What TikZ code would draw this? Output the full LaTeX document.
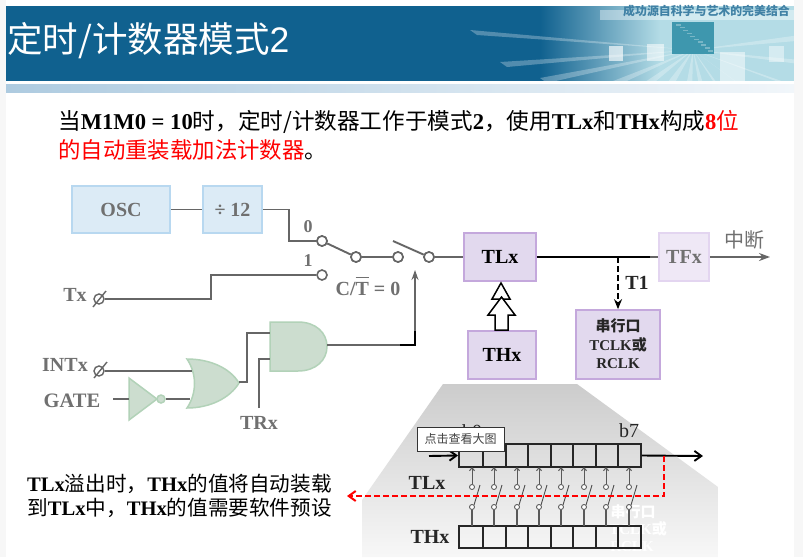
\documentclass[tikz,border=0pt]{standalone}
\usepackage{fontspec}
\setmainfont{Liberation Serif}
\newfontfamily\cjk{Noto Sans CJK SC}
\newfontfamily\hei{Liberation Sans}
\usetikzlibrary{arrows.meta,calc,shapes.geometric}
\definecolor{hdr}{HTML}{10618F}
\definecolor{hdrlight}{HTML}{B4DCE6}
\definecolor{teal1}{HTML}{3E97AE}
\definecolor{bandL}{HTML}{AECBE0}
\definecolor{bandR}{HTML}{F1F6FA}
\definecolor{bluefill}{HTML}{DCEBF6}
\definecolor{blueedge}{HTML}{B8D8F0}
\definecolor{purfill}{HTML}{E2D9EE}
\definecolor{puredge}{HTML}{C4A8DC}
\definecolor{tffill}{HTML}{EFE8F6}
\definecolor{tfedge}{HTML}{E3D5F0}
\definecolor{grnfill}{HTML}{CCDDCF}
\definecolor{grnedge}{HTML}{B2D2B8}
\definecolor{wire}{HTML}{666666}
\definecolor{txtgray}{HTML}{707070}
\newcommand{\zh}[1]{{\cjk #1}}
\newcommand{\fs}[1]{\fontsize{#1}{#1}\selectfont}
\tikzset{
  x=1pt,y=-1pt,
  wireline/.style={draw=wire,line width=1.9pt},
  blackline/.style={draw=black,line width=1.9pt},
  ringnode/.style={circle,draw=wire,fill=white,line width=1.6pt,minimum size=10pt,inner sep=0pt},
  tinyring/.style={circle,draw=black!70,fill=white,line width=0.8pt,minimum size=5pt,inner sep=0pt},
  bluebox/.style={draw=blueedge,fill=bluefill,line width=1.5pt,inner sep=0pt,text=txtgray,font=\fs{20}\bfseries},
  purbox/.style={draw=puredge,fill=purfill,line width=1.7pt,inner sep=0pt,font=\fs{20}\bfseries},
  gatefill/.style={draw=grnedge,fill=grnfill,line width=1.5pt},
  graylabel/.style={text=txtgray,font=\fs{20}\bfseries,inner sep=0pt},
  blacklabel/.style={text=black!85,font=\fs{20}\bfseries,inner sep=0pt},
  cell/.style={draw=black!85,fill=none,line width=1.9pt},
}
\begin{document}
\begin{tikzpicture}
\useasboundingbox (0,0) rectangle (803,557);
\fill[white] (0,0) rectangle (803,557);
\fill[black!3] (0,0) rectangle (6,557);
\fill[black!3] (794,0) rectangle (803,557);
% header
\fill[hdr] (6,6) rectangle (540,81);
\shade[left color=hdr,right color=hdrlight] (540,6) rectangle (660,81);
\fill[hdrlight] (660,6) rectangle (794,81);
\begin{scope}
\clip (6,6) rectangle (794,81);
\foreach \a/\b in {470/30,500/62,540/78,590/90,630/92,660/92,685/92,700/92,720/92,750/92,790/84,800/60,800/35}{
  \fill[white,opacity=.28] (693,50) -- (\a,\b) -- (\a+7,\b+5) -- cycle;
}
\fill[white,opacity=.65] (609,46) rectangle (623,61);
\fill[white,opacity=.55] (647,44) rectangle (664,61);
\fill[white,opacity=.45] (769,46) rectangle (784,62);
\fill[white,opacity=.5] (720,52) rectangle (745,81);
\fill[white,opacity=.4] (600,10) rectangle (794,20);
\fill[teal1] (672,22) rectangle (714,54);
\foreach \i in {0,...,9}{\fill[white,opacity=.3] (676+\i*3.6,24+\i*2.9) rectangle +(5,1.5);}
\end{scope}
\fill[white] (6,81) rectangle (794,84);
\shade[left color=bandL,right color=bandR] (6,84) rectangle (794,92);
\node[text=white,anchor=west,inner sep=0pt,font=\fs{35.5}] (title) at (7,41) {\zh{定时/计数器模式}\hei 2};
\node[text=hdr!80,anchor=east,inner sep=0pt,font=\fs{11.9}\bfseries] (motto) at (790,11) {\zh{成功源自科学与艺术的完美结合}};
% intro
\node[anchor=west,inner sep=0pt,font=\fs{22.6}] (intro1) at (58,122) {\zh{当}\textbf{M1M0 = 10}\zh{时，定时/计数器工作于模式}\textbf{2}\zh{，使用}\textbf{TLx}\zh{和}\textbf{THx}\zh{构成}\textcolor{red}{\textbf{8}\zh{位}}};
\node[anchor=west,inner sep=0pt,font=\fs{22.4}] (intro2) at (58,150) {\textcolor{red}{\zh{的自动重装载加法计数器}}\zh{。}};
% gray callout
\shade[top color=black!20,bottom color=black!3,draw=none] (443,384) -- (577,384) -- (718,487) -- (718,557) -- (362,557) -- (362,500) -- cycle;
% blocks
\node[bluebox,minimum width=98pt,minimum height=47pt] (osc) at (121,209.5) {OSC};
\node[bluebox,minimum width=59pt,minimum height=47pt] (div) at (232.5,209.5) {÷ 12};
\node[ringnode] (r0) at (322,241) {};
\node[ringnode] (r1) at (322,275) {};
\node[ringnode] (r2) at (356,257) {};
\node[ringnode] (r3) at (398,257) {};
\node[ringnode] (r4) at (429,257) {};
\coordinate (blade) at (393,241);
\node[purbox,minimum width=72pt,minimum height=48pt] (tlx) at (500,257) {TLx};
\node[purbox,minimum width=68pt,minimum height=48pt] (thx) at (502,355) {THx};
\node[draw=tfedge,fill=tffill,line width=1.7pt,inner sep=0pt,minimum width=50pt,minimum height=48pt,text=txtgray,font=\fs{20}\bfseries] (tfx) at (684,257) {TFx};
\node[purbox,minimum width=84pt,minimum height=69pt,align=center,font=\fs{15}\bfseries] (ser) at (618,344.5) {};
\node[inner sep=0pt,font=\fs{15}\bfseries,text=black!85] (s1) at (618,326) {\zh{串行口}};
\node[inner sep=0pt,font=\fs{15}\bfseries,text=black!85] (s2) at (618,345) {TCLK\zh{或}};
\node[inner sep=0pt,font=\fs{15}\bfseries,text=black!85] (s3) at (618,364) {RCLK};
% wires
\draw[wireline] (osc.east) -- (div.west);
\draw[wireline] (div.east) -| (289,241) -- (r0.west);
\draw[wireline] (r0) -- (r2);
\draw[wireline] (r2) -- (r3);
\draw[wireline] (blade) -- (r4);
\draw[wireline] (r4) -- (tlx.west);
\node[ringnode] at (r0) {};\node[ringnode] at (r2) {};\node[ringnode] at (r3) {};\node[ringnode] at (r4) {};
\draw[blackline] (tlx.east) -- (650,257);
\draw[wireline] (650,257) -- (tfx.west);
\draw[wireline,-{Stealth[length=11pt,width=8pt]}] (tfx.east) -- (770,257);
\coordinate (tap) at (618,257);
\draw[blackline,dash pattern=on 6pt off 3pt,-{Stealth[length=10pt,width=8pt]}] (tap) -- (ser.north);
% tx
\node[graylabel] (tx) at (75,295) {Tx};
\node[circle,draw=wire,line width=1.4pt,minimum size=10pt,inner sep=0pt] (txc) at (99,299) {};
\draw[wire,line width=1.4pt] (93,307) -- (106,291);
\draw[wireline] (txc.east) -- (211,299) -- (211,275) -- (r1.west);
% labels
\node[graylabel,font=\fs{18}\bfseries] (l0) at (308,227) {0};
\node[graylabel,font=\fs{18}\bfseries] (l1) at (308,261) {1};
\node[graylabel,anchor=base] (ct) at (368,295) {C/$\overline{\mbox{\rule{0pt}{0.8em}T}}$ = 0};
\node[text=txtgray,inner sep=0pt,font=\fs{20}] (zd) at (744,240) {\zh{中断}};
\node[blacklabel] (t1) at (637,283) {T1};
% hollow arrows
\draw[fill=white,draw=black,line width=1.5pt] (501,283) -- (510,299) -- (492,299) -- cycle;
\draw[fill=white,draw=black,line width=1.5pt] (495,330) -- (495,315) -- (488,315) -- (501.5,297) -- (515,315) -- (508,315) -- (508,330) -- cycle;
% gates
\draw[gatefill] (270,322) -- (298,322) .. controls (316,322) and (327,333) .. (327,346.5) .. controls (327,360) and (316,371) .. (298,371) -- (270,371) -- cycle;
\coordinate (andout) at (327,345);
\coordinate (andA) at (270,333);
\coordinate (andB) at (270,359);
\draw[gatefill] (187,359) .. controls (210,359) and (230,368) .. (239,383) .. controls (230,398) and (210,408) .. (187,408) .. controls (197,393) and (197,374) .. (187,359) -- cycle;
\coordinate (orout) at (239,382);
\coordinate (orA) at (192,371);
\coordinate (orB) at (190,399);
\draw[gatefill] (129,378) -- (157,399) -- (129,420) -- cycle;
\node[circle,draw=grnedge,fill=grnfill,line width=1.5pt,minimum size=8pt,inner sep=0pt] (bub) at (161,399) {};
\coordinate (trin) at (129,399);
\draw[wireline] (orout) -- (247,382) -- (247,333) -- (andA);
\node[graylabel] (trx) at (259,423) {TRx};
\draw[wireline] (259,408) -- (259,359) -- (andB);
\node[graylabel] (intx) at (65,365) {INTx};
\node[circle,draw=wire,line width=1.4pt,minimum size=10pt,inner sep=0pt] (intc) at (99,371) {};
\draw[wire,line width=1.4pt] (94,378) -- (107,362);
\draw[wireline] (intc.east) -- (orA);
\node[graylabel,font=\fs{20.5}\bfseries] (gate) at (72,401) {GATE};
\draw[wireline] (113,399) -- (trin);
\draw[wireline] (bub.east) -- (orB);
\draw[wireline] (andout) -- (400,345);
\draw[blackline] (400,345) -- (415,345) -- (415,330);
\coordinate (swctl) at (415,270);
\draw[wireline,-{Stealth[length=10pt,width=7pt]}] (415,331) -- (swctl);
% ghost text under the registers
\node[inner sep=0pt,text=white,font=\fs{15}\bfseries] (g1) at (633,512) {\zh{串行口}};
\node[inner sep=0pt,text=white,font=\fs{15}\bfseries] (g2) at (638,529) {TCLK\zh{或}};
\node[inner sep=0pt,text=white,font=\fs{15}\bfseries] (g3) at (632,547) {RCLK};
% registers
\foreach \a/\b [count=\i] in {459/483,483/506,506/528,528/551,551/573,573/596,596/618,618/641}{
  \node[cell,minimum width={(\b-\a)*1pt},minimum height=23pt,inner sep=0pt] (L\i) at ({(\a+\b)/2},455.5) {};
  \node[cell,minimum width={(\b-\a)*1pt},minimum height=22pt,inner sep=0pt] (H\i) at ({(\a+\b)/2},537) {};
}
\foreach \i/\c in {1/472,2/494,3/517,4/539,5/561,6/584,7/606,8/629}{
  \node[tinyring] (u\i) at (\c,487) {};
  \node[tinyring] (d\i) at (\c,507) {};
  \draw[black!65,line width=1pt,-{Straight Barb[length=3pt,width=5pt]}] (u\i.north) -- (\c,467);
  \draw[black!65,line width=1.1pt] (d\i.south) -- (\c,526);
  \draw[black!70,line width=0.9pt] (d\i.north east) -- (\c+8,485);
}
\node[inner sep=0pt,font=\fs{20},text=black!85] (b0) at (472,432) {b0};
\node[inner sep=0pt,font=\fs{20},text=black!85] (b7) at (629,431) {b7};
\coordinate (inA) at (429,456);
\coordinate (outA) at (703,456);
\draw[black,line width=1.9pt,-{Straight Barb[length=7pt,width=10pt]}] (inA) -- (L1.west);
\draw[black,line width=1.9pt,-{Straight Barb[length=7pt,width=10pt]}] (L8.east) -- (outA);
\node[blacklabel] (tl) at (427,483) {TLx};
\node[blacklabel] (th) at (430,537) {THx};
\coordinate (rt) at (664,456);
\coordinate (rb) at (664,496);
\coordinate (re) at (347,496);
\draw[red,line width=2pt,dash pattern=on 6pt off 3pt,-{Straight Barb[length=7pt,width=10pt]}] (rt) -- (rb) -- (re);
\node[draw=black!80,fill=white,line width=0.7pt,minimum width=87pt,minimum height=24pt,inner sep=0pt,font=\fs{12},text=black!75] (tip) at (460.5,439) {\zh{点击查看大图}};
% note
\node[anchor=west,inner sep=0pt,font=\fs{20.6}] (n1) at (27,484) {\textbf{TLx}\zh{溢出时，}\textbf{THx}\zh{的值将自动装载}};
\node[anchor=west,inner sep=0pt,font=\fs{20.6}] (n2) at (27,508) {\zh{到}\textbf{TLx}\zh{中，}\textbf{THx}\zh{的值需要软件预设}};
\end{tikzpicture}
\end{document}
